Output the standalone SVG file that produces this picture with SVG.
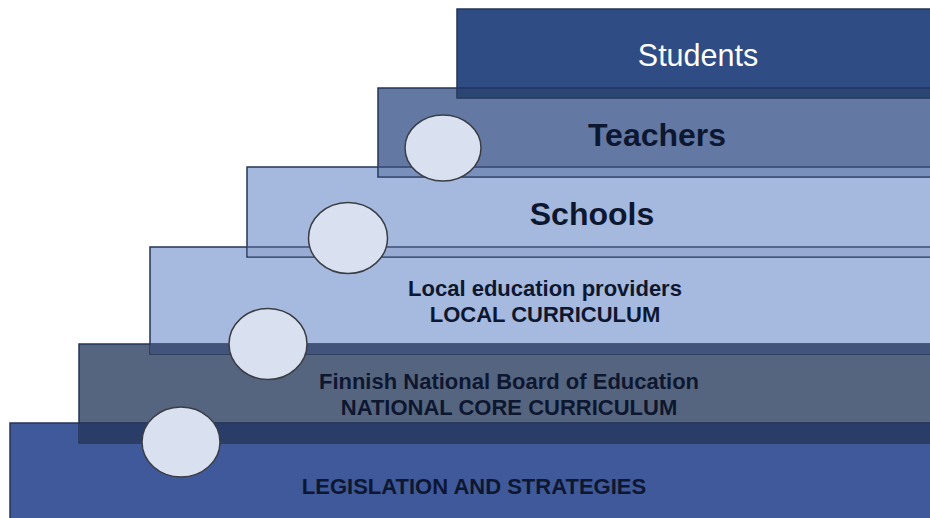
<svg xmlns="http://www.w3.org/2000/svg" width="930" height="518" viewBox="0 0 930 518">
<style>
.edge{stroke:#253556;stroke-width:1.5}
.band{stroke:none}
.dot{fill:#d9e1f1;stroke:#3a3d44;stroke-width:1.5}
.big{font-family:"Liberation Sans",Arial,sans-serif;font-weight:bold;font-size:32px;fill:#0e1730;text-anchor:middle}
.small{font-family:"Liberation Sans",Arial,sans-serif;font-weight:bold;font-size:22px;fill:#0e1730;text-anchor:middle}
</style>
<rect width="930" height="518" fill="#ffffff"/>
<g id="layer-legislation">
<rect class="edge" x="10" y="423" width="930" height="100" fill="#40599a"/>
<text class="small" x="474" y="494">LEGISLATION AND STRATEGIES</text>
</g>
<g id="layer-finnish">
<rect class="edge" x="79" y="344" width="870" height="99" fill="#56657f"/>
<rect class="band" x="79.8" y="423.8" width="860" height="18.5" fill="#2a3d68"/>
<line x1="79" y1="423" x2="930" y2="423" stroke="#1f2d50" stroke-width="1.5"/>
<text class="small" x="509" y="389">Finnish National Board of Education</text>
<text class="small" x="509" y="415">NATIONAL CORE CURRICULUM</text>
</g>
<g id="layer-local">
<rect class="edge" x="150" y="247" width="800" height="107" fill="#a6b9de"/>
<rect class="band" x="150.8" y="344.8" width="790" height="8.5" fill="#42547b"/>
<line x1="150" y1="344" x2="930" y2="344" stroke="#2b3a5c" stroke-width="1.5"/>
<text class="small" x="545" y="296">Local education providers</text>
<text class="small" x="545" y="322">LOCAL CURRICULUM</text>
</g>
<g id="layer-schools">
<rect class="edge" x="247" y="167" width="700" height="90" fill="#a5b8dd"/>
<rect class="band" x="247.8" y="247.8" width="690" height="8.5" fill="#98acd3"/>
<line x1="247" y1="247" x2="930" y2="247" stroke="#3a4d75" stroke-width="1.5"/>
<text class="big" x="592" y="225">Schools</text>
</g>
<g id="layer-teachers">
<rect class="edge" x="378" y="88" width="570" height="89" fill="#6379a3"/>
<rect class="band" x="378.8" y="167.8" width="560" height="8.5" fill="#7990bd"/>
<line x1="378" y1="167" x2="930" y2="167" stroke="#34476f" stroke-width="1.5"/>
<text class="big" x="657" y="146">Teachers</text>
</g>
<g id="layer-students">
<rect class="edge" x="457" y="9" width="490" height="89" fill="#2f4c85"/>
<rect class="band" x="457.8" y="88.8" width="480" height="8.5" fill="#2c4674"/>
<line x1="457" y1="88" x2="930" y2="88" stroke="#1e3360" stroke-width="1.5"/>
<text class="big" x="698" y="66" style="fill:#ffffff;font-weight:normal;font-size:30.5px">Students</text>
</g>
<g id="connectors"></g>
<g id="circle-1"><ellipse class="dot" cx="443" cy="148" rx="38" ry="33"/></g>
<g id="circle-2"><ellipse class="dot" cx="348" cy="238" rx="39.5" ry="35.5"/></g>
<g id="circle-3"><ellipse class="dot" cx="268" cy="344" rx="39" ry="35.5"/></g>
<g id="circle-4"><ellipse class="dot" cx="181" cy="442" rx="39" ry="35"/></g>
</svg>
